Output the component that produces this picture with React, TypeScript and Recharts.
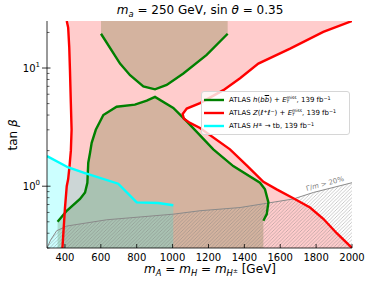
import React from "react";
import { ComposedChart, Area, Line, XAxis, YAxis, Legend } from "recharts";

// ATLAS Z(ll)+MET, left edge (bottom -> top)
const zllLeftX = [386, 400, 410, 418, 426, 433, 437, 433, 428, 424, 418, 410];
const zllLeftY = [0.3, 0.65, 1.0, 1.15, 1.5, 2.0, 3.0, 5.0, 9.6, 15, 22, 25];

// ATLAS Z(ll)+MET, right contour (top-right corner, round the nose, down to bottom)
const zllRightX = [2000, 1840, 1655, 1478, 1376, 1283, 1153, 1079, 1056, 1063, 1097, 1153, 1320, 1413, 1506, 1580, 1673, 1766, 1840, 1915, 2000];
const zllRightY = [25, 20.2, 14.6, 10.9, 8.2, 6.5, 5.05, 4.54, 4.08, 3.72, 3.43, 3.11, 2.05, 1.5, 1.09, 0.94, 0.79, 0.66, 0.53, 0.4, 0.3];

// ATLAS h(bb)+MET, lower contour
const hbbLowX = [359, 410, 484, 512, 525, 530, 540, 549, 572, 614, 688, 790, 856, 902, 1004, 1079, 1227, 1338, 1487, 1515, 1534, 1525, 1506];
const hbbLowY = [0.5, 0.62, 0.78, 0.885, 1.07, 1.58, 1.92, 2.33, 3.0, 4.0, 4.7, 4.9, 5.3, 5.7, 4.6, 3.54, 2.05, 1.48, 1.07, 0.94, 0.73, 0.58, 0.51];

// ATLAS h(bb)+MET, upper contour
const hbbUpX = [601, 707, 763, 837, 902, 967, 1060, 1190, 1307];
const hbbUpY = [19.5, 10.9, 8.7, 7.0, 6.6, 7.2, 9.0, 12.9, 19.5];

// ATLAS H+ -> tb
const htbX = [300, 419, 512, 697, 800, 920, 1004];
const htbY = [1.8, 1.44, 1.29, 1.05, 0.73, 0.72, 0.69];

// Gamma/m > 20% boundary
const widthX = [300, 320, 354, 410, 633, 1004, 1153, 1376, 1506, 1673, 1785, 2000];
const widthY = [0.3, 0.35, 0.42, 0.46, 0.52, 0.58, 0.62, 0.66, 0.71, 0.78, 0.885, 1.07];

const xTicks = [400, 600, 800, 1000, 1200, 1400, 1600, 1800, 2000];
const yMajor = [1, 10];
const yTicks = [0.3, 0.4, 0.5, 0.6, 0.7, 0.8, 0.9, 1, 2, 3, 4, 5, 6, 7, 8, 9, 10, 20];

const Y_MIN = 0.3;
const Y_MAX = 25;

const pts = (xs: number[], ys: number[]) => xs.map((x, i) => ({ x, y: ys[i] }));

const zllLeft = pts(zllLeftX, zllLeftY);
const zllRight = pts(zllRightX, zllRightY);
const zllFill = [...zllLeft, ...zllRight];
const hbbLow = pts(hbbLowX, hbbLowY);
const hbbLowFill = [{ x: hbbLowX[0], y: Y_MIN }, ...hbbLow, { x: hbbLowX[hbbLowX.length - 1], y: Y_MIN }];
const hbbUp = pts(hbbUpX, hbbUpY);
const hbbUpFill = hbbUpX.map((x, i) => ({ x, band: [hbbUpY[i], Y_MAX] }));
const htb = pts(htbX, htbY);
const htbFill = [...htb, { x: htbX[htbX.length - 1], y: Y_MIN }];
const widthLine = pts(widthX, widthY);

const FONT = "DejaVu Sans";

const Sub = ({ children }: any) => (
  <span style={{ fontSize: "70%", verticalAlign: "-0.3em", lineHeight: 0 }}>{children}</span>
);
const Sup = ({ children }: any) => (
  <span style={{ fontSize: "70%", verticalAlign: "0.45em", lineHeight: 0 }}>{children}</span>
);
const Emiss = () => (
  <span>
    <i>E</i>
    <span style={{ display: "inline-block", fontSize: "62%", lineHeight: 0.9, verticalAlign: "middle" }}>
      <span style={{ display: "block" }}>miss</span>
      <span style={{ display: "block" }}><i>T</i></span>
    </span>
  </span>
);

const legendItems = [
  { color: "green", label: <>ATLAS <i>h</i>(<i>b</i><i style={{ textDecoration: "overline" }}>b</i>) + <Emiss />, 139 fb<Sup>−1</Sup></> },
  { color: "red", label: <>ATLAS <i>Z</i>(<i>ℓ</i><Sup>+</Sup><i>ℓ</i><Sup>−</Sup>) + <Emiss />, 139 fb<Sup>−1</Sup></> },
  { color: "cyan", label: <>ATLAS <i>H</i><Sup>±</Sup> → tb, 139 fb<Sup>−1</Sup></> },
];

const BottomTick = (props: any) => {
  const { x, y, payload } = props;
  return (
    <g>
      <line x1={x} x2={x} y1={y} y2={y - 4} stroke="#000" strokeWidth={0.8} />
      <text x={x} y={y + 13} textAnchor="middle" fontSize={10} fontFamily={FONT} fill="#000">
        {payload.value}
      </text>
    </g>
  );
};

const TopTick = (props: any) => {
  const { x, y } = props;
  return <line x1={x} x2={x} y1={y} y2={y + 4} stroke="#000" strokeWidth={0.8} />;
};

const LeftTick = (props: any) => {
  const { x, y, payload } = props;
  const v = payload.value;
  if (!yMajor.includes(v)) {
    return <line x1={x} x2={x + 2.5} y1={y} y2={y} stroke="#000" strokeWidth={0.6} />;
  }
  return (
    <g>
      <line x1={x - 5} x2={x + 3.5} y1={y} y2={y} stroke="#000" strokeWidth={0.8} />
      <text x={x - 7} y={y + 3.5} textAnchor="end" fontSize={10} fontFamily={FONT} fill="#000">
        10<tspan dy={-4.5} fontSize={7}>{Math.round(Math.log10(v))}</tspan>
      </text>
    </g>
  );
};

const RightTick = (props: any) => {
  const { x, y, payload } = props;
  const major = yMajor.includes(payload.value);
  return <line x1={x} x2={x - (major ? 4 : 2.5)} y1={y} y2={y} stroke="#000" strokeWidth={major ? 0.8 : 0.6} />;
};

const LegendBox = () => (
  <div
    style={{
      background: "rgba(255,255,255,0.8)",
      border: "1px solid #d6d6d6",
      borderRadius: 3,
      padding: "1.5px 2px 1px",
      fontFamily: FONT,
      fontSize: 7,
      color: "#000",
      boxSizing: "border-box",
    }}
  >
    {legendItems.map((it, i) => (
      <div key={i} style={{ display: "flex", alignItems: "center", height: 13, whiteSpace: "nowrap" }}>
        <svg width={20} height={6} style={{ flex: "none", marginRight: 5 }}>
          <line x1={0} x2={20} y1={3} y2={3} stroke={it.color} strokeWidth={2.4} />
        </svg>
        <span>{it.label}</span>
      </div>
    ))}
  </div>
);

const App = () => {
  return (
    <div style={{ position: "fixed", left: 0, top: 0, width: 374, height: 286, background: "#fff" }}>
      <ComposedChart width={374} height={286} margin={{ top: 21, right: 22, bottom: 8, left: 7 }}>
        <defs>
          <pattern id="hatch" patternUnits="userSpaceOnUse" width={3.5} height={3.5}>
            <path d="M-1,1 l2,-2 M0,3.5 l3.5,-3.5 M2.5,4.5 l2,-2" stroke="#7a7a7a" strokeWidth={0.65} />
          </pattern>
        </defs>
        <XAxis
          xAxisId="b"
          dataKey="x"
          type="number"
          domain={[300, 2000]}
          allowDataOverflow
          ticks={xTicks}
          interval={0}
          height={30}
          tickSize={0}
          tickMargin={0}
          tickLine={false}
          tick={<BottomTick />}
          axisLine={{ stroke: "#000", strokeWidth: 0.8 }}
        />
        <XAxis
          xAxisId="t"
          orientation="top"
          dataKey="x"
          type="number"
          domain={[300, 2000]}
          allowDataOverflow
          ticks={xTicks}
          interval={0}
          height={0}
          tickSize={0}
          tickMargin={0}
          tickLine={false}
          tick={<TopTick />}
          axisLine={{ stroke: "#000", strokeWidth: 0.8 }}
        />
        <YAxis
          yAxisId="l"
          type="number"
          scale="log"
          domain={[Y_MIN, Y_MAX]}
          allowDataOverflow
          ticks={yTicks}
          interval={0}
          width={40}
          tickSize={0}
          tickMargin={0}
          tickLine={false}
          tick={<LeftTick />}
          axisLine={{ stroke: "#000", strokeWidth: 0.8 }}
        />
        <YAxis
          yAxisId="r"
          orientation="right"
          type="number"
          scale="log"
          domain={[Y_MIN, Y_MAX]}
          allowDataOverflow
          ticks={yTicks}
          interval={0}
          width={0}
          tickSize={0}
          tickMargin={0}
          tickLine={false}
          tick={<RightTick />}
          axisLine={{ stroke: "#000", strokeWidth: 0.8 }}
        />

        <Area xAxisId="b" yAxisId="l" data={zllFill} dataKey="y" type="linear" baseValue={Y_MIN} stroke="none" fill="#ff0000" fillOpacity={0.2} isAnimationActive={false} />
        <Area xAxisId="b" yAxisId="l" data={hbbUpFill} dataKey="band" type="linear" stroke="none" fill="#707c39" fillOpacity={0.3} isAnimationActive={false} />
        <Area xAxisId="b" yAxisId="l" data={hbbLowFill} dataKey="y" type="linear" baseValue={Y_MIN} stroke="none" fill="#707c39" fillOpacity={0.3} isAnimationActive={false} />
        <Area xAxisId="b" yAxisId="l" data={htbFill} dataKey="y" type="linear" baseValue={Y_MIN} stroke="none" fill="#00ffff" fillOpacity={0.2} isAnimationActive={false} />
        <Area xAxisId="b" yAxisId="l" data={widthLine} dataKey="y" type="linear" baseValue={Y_MIN} stroke="none" fill="url(#hatch)" isAnimationActive={false} />

        <Line xAxisId="b" yAxisId="l" data={widthLine} dataKey="y" type="linear" stroke="#8a8a8a" strokeWidth={1} dot={false} isAnimationActive={false} />
        <Line xAxisId="b" yAxisId="l" data={hbbLow} dataKey="y" type="linear" stroke="green" strokeWidth={2.4} dot={false} isAnimationActive={false} />
        <Line xAxisId="b" yAxisId="l" data={hbbUp} dataKey="y" type="linear" stroke="green" strokeWidth={2.4} dot={false} isAnimationActive={false} />
        <Line xAxisId="b" yAxisId="l" data={zllLeft} dataKey="y" type="linear" stroke="red" strokeWidth={2.4} dot={false} isAnimationActive={false} />
        <Line xAxisId="b" yAxisId="l" data={zllRight} dataKey="y" type="linear" stroke="red" strokeWidth={2.4} dot={false} isAnimationActive={false} />
        <Line xAxisId="b" yAxisId="l" data={htb} dataKey="y" type="linear" stroke="cyan" strokeWidth={2.4} dot={false} isAnimationActive={false} />

        <Legend
          layout="horizontal"
          verticalAlign="middle"
          align="center"
          content={<LegendBox />}
          wrapperStyle={{ left: 201, top: 91, width: 149 }}
        />
      </ComposedChart>

      <div style={{ position: "absolute", left: 100, top: 3, width: 200, textAlign: "center", fontFamily: FONT, fontSize: 12, lineHeight: "14px", whiteSpace: "nowrap" }}>
        <i>m</i><Sub><i>a</i></Sub> = 250 GeV, sin <i>θ</i> = 0.35
      </div>
      <div style={{ position: "absolute", left: 110, top: 262, width: 200, textAlign: "center", fontFamily: FONT, fontSize: 12, lineHeight: "14px", whiteSpace: "nowrap" }}>
        <i>m</i><Sub><i>A</i></Sub> = <i>m</i><Sub><i>H</i></Sub> = <i>m</i><Sub><i>H</i><Sup>±</Sup></Sub> [GeV]
      </div>
      <div style={{ position: "absolute", left: 13, top: 135, transform: "translate(-50%, -50%) rotate(-90deg)", fontFamily: FONT, fontSize: 12, whiteSpace: "nowrap" }}>
        tan <i>β</i>
      </div>
      <div style={{ position: "absolute", left: 325, top: 184, transform: "translate(-50%, -50%) rotate(-15deg)", fontFamily: FONT, fontSize: 7, color: "#808080", whiteSpace: "nowrap" }}>
        Γ/<i>m</i> &gt; 20%
      </div>
    </div>
  );
};

export default App;
